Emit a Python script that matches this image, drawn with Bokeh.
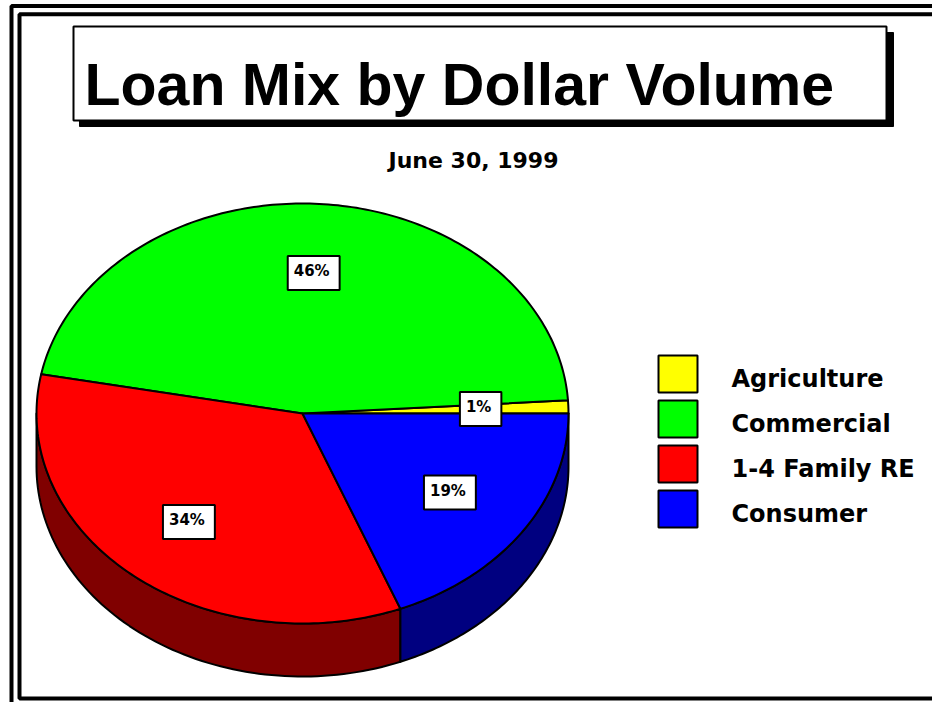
import numpy as np
from bokeh.plotting import figure
from bokeh.models import Range1d, ColumnDataSource
from bokeh.core.properties import value
from bokeh.embed import file_html
from bokeh.resources import INLINE

# ---- data ----
categories = ["Agriculture", "Commercial", "1-4 Family RE", "Consumer"]
shares = [1, 46, 34, 19]
pct_labels = ["1%", "46%", "34%", "19%"]
top_colors = ["#FFFF00", "#00FF00", "#FF0000", "#0000FF"]
side_colors = ["#808000", "#008000", "#800000", "#000080"]
title_text = "Loan Mix by Dollar Volume"
subtitle_text = "June 30, 1999"

# ---- layout constants (pixels) ----
W, H = 932, 702
CX, CY, RX, RY, DEPTH = 302, 413, 266, 210, 53
LABEL_R = 0.67

p = figure(width=W, height=H, x_range=Range1d(0, W), y_range=Range1d(H, 0),
           x_axis_type=None, y_axis_type=None, output_backend="svg",
           toolbar_location=None, min_border=0, outline_line_color=None,
           background_fill_color="white", border_fill_color="white")
p.grid.visible = False

# ---- double frame ----
p.line([11, 11, 1000], [1000, 5.5, 5.5], line_color="black", line_width=4)
p.line([1000, 19, 19, 1000], [13.7, 13.7, 698, 698], line_color="black", line_width=4)

# ---- title box with shadow ----
p.quad(left=[79], right=[893], top=[32], bottom=[126], fill_color="black", line_color="black")
p.quad(left=[73], right=[886], top=[26], bottom=[120], fill_color="white",
       line_color="black", line_width=2)
p.text(x=[84], y=[84], text=[title_text], text_font=value("Liberation Sans"),
       text_font_style="bold", text_font_size="59px", text_align="left",
       text_baseline="middle", text_color="black")

# ---- subtitle ----
p.text(x=[473], y=[160], text=[subtitle_text], text_font=value("DejaVu Sans"),
       text_font_style="bold", text_font_size="22px", text_align="center",
       text_baseline="middle", text_color="black")

# ---- pie geometry from data ----
total = float(sum(shares))
fracs = np.array(shares, dtype=float) / total
ends = np.cumsum(fracs) * 2 * np.pi
starts = ends - fracs * 2 * np.pi


def ell(a):
    return CX + RX * np.cos(a), CY - RY * np.sin(a)


# side walls (front half only)
sx, sy, sc = [], [], []
for i in range(len(shares)):
    a0 = max(starts[i], np.pi)
    a1 = min(ends[i], 2 * np.pi)
    if a1 > a0:
        t = np.linspace(a0, a1, 80)
        x, y = ell(t)
        sx.append(list(np.concatenate([x, x[::-1]])))
        sy.append(list(np.concatenate([y, y[::-1] + DEPTH])))
        sc.append(side_colors[i])
p.patches(xs=sx, ys=sy, fill_color=sc, line_color="black", line_width=2, line_join="round")

# top face wedges
tx, ty = [], []
for i in range(len(shares)):
    n = max(4, int(fracs[i] * 360))
    t = np.linspace(starts[i], ends[i], n)
    x, y = ell(t)
    tx.append([CX] + list(x))
    ty.append([CY] + list(y))
p.patches(xs=tx, ys=ty, fill_color=top_colors, line_color="black", line_width=2,
          line_join="round")

# percentage labels
mids = (starts + ends) / 2
lx = CX + LABEL_R * RX * np.cos(mids)
ly = CY - LABEL_R * RY * np.sin(mids)
lab_src = ColumnDataSource(dict(x=lx, y=ly, text=pct_labels))
p.text(x="x", y="y", text="text", source=lab_src, text_font=value("DejaVu Sans"),
       text_font_style="bold", text_font_size="15px", text_align="center",
       text_baseline="middle", text_color="black",
       background_fill_color="white", border_line_color="black", border_line_width=2,
       padding=(6, 10, 6, 10))

# ---- legend ----
LEG_X0, LEG_X1, LEG_TOP, LEG_STEP, LEG_H = 658, 697, 355, 45, 37
tops = [LEG_TOP + i * LEG_STEP for i in range(len(categories))]
p.quad(left=[LEG_X0] * len(categories), right=[LEG_X1] * len(categories),
       top=tops, bottom=[t + LEG_H for t in tops], fill_color=top_colors,
       line_color="black", line_width=2)
p.text(x=[731] * len(categories), y=[t + 23 for t in tops], text=categories,
       text_font=value("DejaVu Sans"), text_font_style="bold", text_font_size="24px",
       text_align="left", text_baseline="middle", text_color="black")

open("out.html", "w").write(file_html(p, INLINE))
